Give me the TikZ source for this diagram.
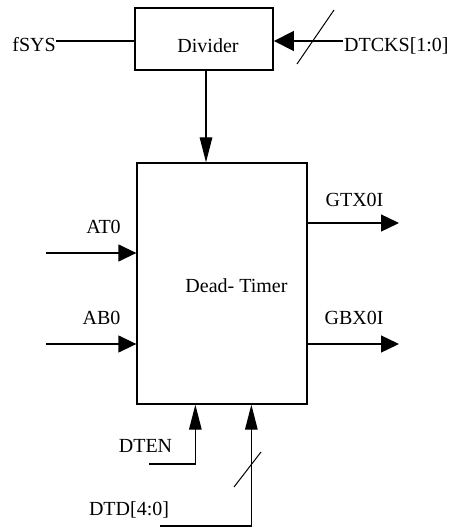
\documentclass[tikz,border=0pt]{standalone}
\usepackage{fontspec}
\setmainfont{Liberation Serif}
\usetikzlibrary{positioning, arrows.meta, calc}

\begin{document}
\begin{tikzpicture}[
        x=1pt, y=-1pt,
        font=\fontsize{20}{24}\selectfont,
        blockbox/.style={rectangle, draw=black, line width=1.3pt, inner sep=0pt},
        lbl/.style={inner sep=0pt},
        sig/.style={line width=1.3pt},
        harr/.style={sig, -{Triangle[length=18pt, width=17pt]}},
        varr/.style={sig, -{Triangle[length=25pt, width=12.5pt]}},
        bus/.style={line width=1pt},
    ]
        \useasboundingbox (0,0) rectangle (453,529);

        % Divider block (top)
        \node[blockbox, line width=1.8pt, minimum width=138pt, minimum height=62pt] (div) at (204,39) {};
        \node[lbl, anchor=base] (divname) at (208,53) {Divider};

        % Dead-Timer block
        \node[blockbox, minimum width=170pt, minimum height=241pt] (dt) at (222,283.5) {};
        \node[lbl, anchor=base] (dtname) at (236.5,292) {Dead- Timer};

        % Clock inputs of the divider
        \coordinate (fsysin) at (56,41);
        \node[lbl, anchor=base east] (fsys) at ($(fsysin)+(0,11)$) {fSYS};
        \draw[sig] (fsysin) -- (fsysin -| div.west);

        \coordinate (ckin) at (343,41);
        \node[lbl, anchor=base west] (dtcks) at ($(ckin)+(1,11)$) {DTCKS[1:0]};
        \draw[sig, -{Triangle[length=20pt, width=20pt]}] (ckin) -- (ckin -| div.east);
        \draw[bus] (297,64) -- (334,10);

        % Divider to Dead-Timer
        \draw[varr] (div.south -| 206,0) -- (dt.north -| 206,0);

        % Inputs (left)
        \coordinate (atin) at (46,253);
        \node[lbl, anchor=base] (at0) at (103.5,233) {AT0};
        \draw[harr] (atin) -- (atin -| dt.west);

        \coordinate (abin) at (46,344);
        \node[lbl, anchor=base] (ab0) at (101.5,324) {AB0};
        \draw[harr] (abin) -- (abin -| dt.west);

        % Outputs (right)
        \coordinate (gtout) at (399,223);
        \node[lbl, anchor=base] (gtx) at (354.5,207) {GTX0I};
        \draw[harr] (gtout -| dt.east) -- (gtout);

        \coordinate (gbout) at (399,344);
        \node[lbl, anchor=base] (gbx) at (354,324) {GBX0I};
        \draw[harr] (gbout -| dt.east) -- (gbout);

        % Control inputs (bottom)
        \coordinate (enin) at (149,464);
        \node[lbl, anchor=base] (dten) at (145.5,452) {DTEN};
        \draw[varr] (enin) -| ($(dt.south west)+(59,0)$);

        \coordinate (dtdin) at (160,526);
        \node[lbl, anchor=base] (dtd) at (129,515) {DTD[4:0]};
        \draw[varr] (dtdin) -| ($(dt.south west)+(115,0)$);
        \draw[bus] (234,487) -- (261,452);
    \end{tikzpicture}
\end{document}
